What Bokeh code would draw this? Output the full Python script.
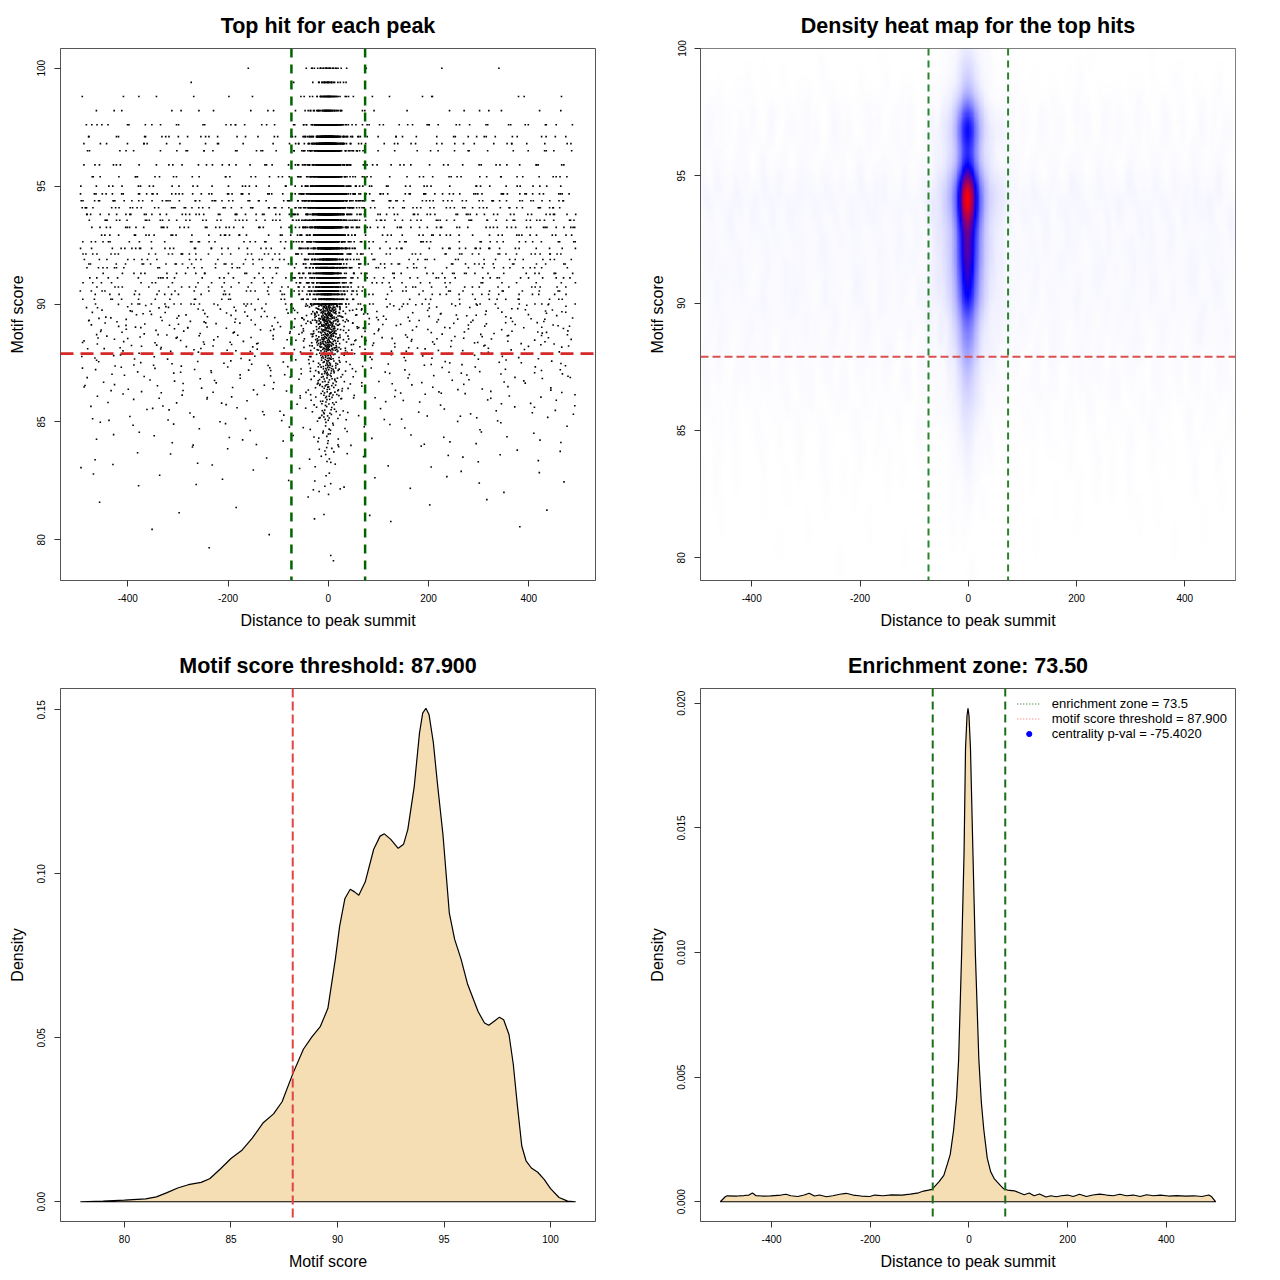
import numpy as np
from bokeh.plotting import figure
from bokeh.layouts import column, row
from bokeh.models import Span, FixedTicker, PrintfTickFormatter, Legend, LegendItem, Range1d
from bokeh.embed import file_html
from bokeh.resources import INLINE

FONT = "Liberation Sans"

# ---------------- values ----------------
enrichment_zone = 73.5
score_threshold = 87.9
centrality_pval = -75.4020

# scatter (top hits): point counts per 1-unit score band, split into the
# uniform background and the summit-centred cluster
score_bin_start = [79, 80, 81, 82, 83, 84, 85, 86, 87, 88, 89, 90, 91, 92, 93, 94, 95, 96, 97, 98, 99]
background_counts = [2, 4, 8, 17, 25, 38, 62, 90, 110, 160, 175, 220, 220, 230, 220, 240, 150, 80, 100, 40, 5]
central_counts = [1, 1, 2, 7, 12, 20, 37, 60, 87, 166, 206, 412, 460, 525, 562, 746, 408, 302, 274, 90, 50]
# discrete motif-score rows visible in the scatter (below 90 the rows merge)
score_levels = [100.0, 99.4, 98.8, 98.2, 97.6, 97.1, 96.8, 96.5, 95.9, 95.4, 95.0,
                94.67, 94.38, 94.08, 93.8, 93.55, 93.25, 92.92, 92.64, 92.36, 92.12,
                91.89, 91.7, 91.54, 91.3, 91.11, 90.9, 90.72, 90.55, 90.41, 90.2, 90.0]
background_x_range = [-495, 495]
background_density_level = 0.00027

# density of motif scores (bottom-left)
score_x = [77.93, 79.0, 80.0, 81.0, 81.5, 82.0, 82.5, 83.0, 83.6, 84.0, 84.5, 85.0, 85.5, 86.0,
           86.5, 87.0, 87.4, 87.9, 88.4, 88.8, 89.2, 89.55, 89.9, 90.1, 90.35, 90.6, 90.8, 91.0,
           91.3, 91.7, 92.0, 92.2, 92.5, 92.85, 93.1, 93.3, 93.6, 93.85, 94.0, 94.15, 94.3, 94.5,
           94.7, 94.95, 95.25, 95.5, 95.8, 96.1, 96.6, 96.9, 97.1, 97.4, 97.6, 97.8, 98.05, 98.25,
           98.45, 98.65, 98.85, 99.1, 99.4, 99.7, 100.0, 100.4, 100.8, 101.18]
score_dens = [0.0, 0.0002, 0.0005, 0.0009, 0.0015, 0.0028, 0.0042, 0.0052, 0.0059, 0.0070, 0.0100,
              0.0132, 0.0156, 0.0194, 0.0240, 0.0268, 0.0305, 0.0390, 0.0465, 0.0503, 0.0535, 0.0590,
              0.0740, 0.0840, 0.0925, 0.0953, 0.0945, 0.0935, 0.0975, 0.1075, 0.1115, 0.1122, 0.1105,
              0.1078, 0.1090, 0.1135, 0.1265, 0.1430, 0.1490, 0.1505, 0.1485, 0.1400, 0.1270, 0.1120,
              0.0880, 0.0800, 0.0740, 0.0665, 0.0580, 0.0545, 0.0538, 0.0553, 0.0563, 0.0555, 0.0510,
              0.0420, 0.0290, 0.0170, 0.0125, 0.0103, 0.0090, 0.0068, 0.0040, 0.0013, 0.0002, 0.0]

# density of distances to summit (bottom-right)
dist_x = [-504, -494, -490, -470, -456, -446, -439, -432, -419, -402, -381, -371, -361, -347, -334,
          -324, -313, -303, -289, -276, -262, -249, -235, -218, -201, -191, -174, -157, -136, -119,
          -102, -92, -82, -75, -68, -61, -51, -44, -38, -31, -25, -21, -15, -10, -7, -4, -2, 0, 3,
          8, 13, 20, 25, 30, 37, 44, 51, 57, 64, 71, 78, 92, 102, 112, 122, 132, 143, 156, 166, 177,
          187, 200, 211, 224, 238, 251, 265, 279, 292, 306, 319, 333, 347, 360, 374, 388, 405, 421,
          439, 456, 472, 486, 492, 500]
dist_dens = [0.0, 0.00020, 0.00024, 0.00023, 0.00025, 0.00027, 0.00035, 0.00025, 0.00023, 0.00024,
             0.00027, 0.00030, 0.00024, 0.00021, 0.00027, 0.00034, 0.00023, 0.00027, 0.00020, 0.00024,
             0.00030, 0.00034, 0.00027, 0.00023, 0.00021, 0.00027, 0.00024, 0.00028, 0.00027, 0.00031,
             0.00036, 0.00043, 0.00047, 0.00050, 0.00065, 0.00080, 0.00106, 0.00150, 0.00190, 0.00290,
             0.00420, 0.00570, 0.00990, 0.01400, 0.01820, 0.01950, 0.01980, 0.01950, 0.01820, 0.01400,
             0.00990, 0.00570, 0.00400, 0.00290, 0.00175, 0.00120, 0.00093, 0.00080, 0.00065, 0.00051,
             0.00047, 0.00044, 0.00036, 0.00028, 0.00035, 0.00024, 0.00031, 0.00019, 0.00024, 0.00020,
             0.00024, 0.00027, 0.00021, 0.00030, 0.00021, 0.00027, 0.00031, 0.00027, 0.00024, 0.00030,
             0.00024, 0.00027, 0.00021, 0.00028, 0.00024, 0.00027, 0.00023, 0.00025, 0.00023, 0.00024,
             0.00021, 0.00027, 0.00020, 0.0]

# ---------------- expand the read counts into points ----------------
# positions inside each (score band, component) cell are laid out with a
# deterministic low-discrepancy (Halton) sequence; only the counts are data.
def radical_inverse(i, base):
    f, r = 1.0, 0.0
    while i > 0:
        f /= base
        r += f * (i % base)
        i //= base
    return r

dx = np.array(dist_x, float)
dd = np.array(dist_dens, float)
cmask = (dx >= -80) & (dx <= 85)
cx = dx[cmask]
cd = np.clip(dd[cmask] - background_density_level, 0, None)
ccdf = np.concatenate([[0.0], np.cumsum(0.5 * (cd[1:] + cd[:-1]) * np.diff(cx))])
ccdf /= ccdf[-1]

pts_x, pts_y = [], []
idx = 1
for lo, nb, nc in zip(score_bin_start, background_counts, central_counts):
    lev = [l for l in score_levels if lo <= l < lo + 1 or (lo == 99 and l == 100.0)]
    for comp, n in (("bg", nb), ("c", nc)):
        for _ in range(n):
            u = (radical_inverse(idx, 2) + 0.025 * radical_inverse(idx, 5)) % 1.0
            v = radical_inverse(idx, 3)
            idx += 1
            if comp == "bg":
                xv = background_x_range[0] + (background_x_range[1] - background_x_range[0]) * u
            else:
                xv = float(np.interp(u, ccdf, cx))
            yv = lev[min(int(v * len(lev)), len(lev) - 1)] if lev else lo + v
            pts_x.append(xv)
            pts_y.append(yv)
px = np.array(pts_x)
py = np.array(pts_y)

# ---------------- helpers ----------------
def style(p, xticks, yticks, xfmt, yfmt, xlabel, ylabel, title, toff):
    p.grid.visible = False
    p.outline_line_color = "#555555"
    p.outline_line_width = 1
    p.background_fill_color = "white"
    p.border_fill_color = "white"
    p.title.text = title
    p.title.align = "center"
    p.title.text_font = FONT
    p.title.text_font_size = "21.5px"
    p.title.text_font_style = "bold"
    p.title.text_color = "black"
    p.title.standoff = 21
    p.title.offset = toff
    for ax, ticks, fmt, lab in ((p.xaxis[0], xticks, xfmt, xlabel), (p.yaxis[0], yticks, yfmt, ylabel)):
        ax.ticker = FixedTicker(ticks=ticks)
        ax.formatter = PrintfTickFormatter(format=fmt)
        ax.minor_tick_line_color = None
        ax.major_tick_in = 0
        ax.major_tick_out = 6
        ax.major_tick_line_color = "#333333"
        ax.axis_line_color = "#555555"
        ax.major_label_text_font = FONT
        ax.major_label_text_font_size = "10px"
        ax.major_label_text_color = "black"
        ax.axis_label = lab
        ax.axis_label_text_font = FONT
        ax.axis_label_text_font_size = "16px"
        ax.axis_label_text_font_style = "normal"
        ax.axis_label_text_color = "black"
    p.xaxis[0].major_label_standoff = 7
    p.xaxis[0].axis_label_standoff = 7
    p.yaxis[0].major_label_standoff = 9
    p.yaxis[0].axis_label_standoff = 9
    p.yaxis[0].major_label_orientation = "vertical"


def ext(lo, hi):
    r = hi - lo
    return Range1d(lo - 0.04 * r, hi + 0.04 * r)

def fig(xr, yr, bottom):
    return figure(width=640, height=640, x_range=xr, y_range=yr,
                  output_backend="svg", toolbar_location=None,
                  min_border_left=60, min_border_right=45, min_border_top=48,
                  min_border_bottom=bottom)

# ---------------- panel 1: scatter ----------------
p1 = fig(ext(px.min(), px.max()), ext(py.min(), py.max()), 60)
p1.scatter(px, py, marker="square", size=1.6, fill_color="black", line_color=None)
for loc in (-enrichment_zone, enrichment_zone):
    p1.add_layout(Span(location=loc, dimension="height", line_color="#006400",
                       line_width=2.5, line_dash="9 7"))
p1.add_layout(Span(location=score_threshold, dimension="width", line_color="#d62828",
                   line_width=2.7, line_dash="13 7"))
style(p1, [-400, -200, 0, 200, 400], [80, 85, 90, 95, 100], "%d", "%d",
      "Distance to peak summit", "Motif score", "Top hit for each peak", -4)

# ---------------- panel 2: 2D density heat map ----------------
def bw_nrd(a):
    q75, q25 = np.percentile(a, [75, 25])
    return 4 * 1.06 * min(np.std(a, ddof=1), (q75 - q25) / 1.34) * len(a) ** (-0.2)

hx = bw_nrd(px) / 4
hy = bw_nrd(py) / 4
gx = np.linspace(px.min(), px.max(), 320)
gy = np.linspace(py.min(), py.max(), 260)
Kx = np.exp(-0.5 * ((gx[None, :] - px[:, None]) / hx) ** 2)
Ky = np.exp(-0.5 * ((gy[None, :] - py[:, None]) / hy) ** 2)
D = (Kx.T @ Ky).T  # (ny, nx)
t = D / D.max()
s1 = np.clip(t / 0.5, 0, 1)
s2 = np.clip((t - 0.5) / 0.5, 0, 1)
rr = np.where(t <= 0.5, 1 - s1, s2)
gg = np.where(t <= 0.5, 1 - s1, 0.0)
bb = np.where(t <= 0.5, 1.0, 1 - s2)
img = np.empty(t.shape, dtype=np.uint32)
view = img.view(dtype=np.uint8).reshape(t.shape + (4,))
view[..., 0] = np.round(rr * 255)
view[..., 1] = np.round(gg * 255)
view[..., 2] = np.round(bb * 255)
view[..., 3] = 255

p2 = fig(Range1d(gx[0], gx[-1]), Range1d(gy[0], gy[-1]), 60)
p2.image_rgba(image=[img], x=gx[0], y=gy[0], dw=gx[-1] - gx[0], dh=gy[-1] - gy[0])
for loc in (-enrichment_zone, enrichment_zone):
    p2.add_layout(Span(location=loc, dimension="height", line_color="#2a852a",
                       line_width=2, line_dash="7 5"))
p2.add_layout(Span(location=score_threshold, dimension="width", line_color="#dc5050",
                   line_width=2, line_dash="8 4"))
style(p2, [-400, -200, 0, 200, 400], [80, 85, 90, 95, 100], "%d", "%d",
      "Distance to peak summit", "Motif score", "Density heat map for the top hits", -2)

# ---------------- panel 3: score density ----------------
p3 = fig(ext(min(score_x), max(score_x)), ext(0, max(score_dens)), 59)
p3.patch(score_x, score_dens, fill_color="wheat", line_color="black", line_width=1.2)
p3.add_layout(Span(location=score_threshold, dimension="height", line_color="#e04444",
                   line_width=2, line_dash="9 4"))
style(p3, [80, 85, 90, 95, 100], [0.0, 0.05, 0.10, 0.15], "%d", "%.2f",
      "Motif score", "Density", f"Motif score threshold: {score_threshold:.3f}", -2)

# ---------------- panel 4: distance density ----------------
p4 = fig(ext(min(dist_x), max(dist_x)), ext(0, max(dist_dens)), 59)
p4.patch(dist_x, dist_dens, fill_color="wheat", line_color="black", line_width=1.2)
for loc in (-enrichment_zone, enrichment_zone):
    p4.add_layout(Span(location=loc, dimension="height", line_color="#1b6e1b",
                       line_width=2, line_dash="8 5"))
style(p4, [-400, -200, 0, 200, 400], [0.0, 0.005, 0.010, 0.015, 0.020], "%d", "%.3f",
      "Distance to peak summit", "Density", f"Enrichment zone: {enrichment_zone:.2f}", -2)

# legend-only renderers: their data lie below the visible y range
off_y = [-1.0, -1.0]
lg_g = p4.line(x=[-enrichment_zone, enrichment_zone], y=off_y, line_color="#1b6e1b",
               line_width=1.2, line_dash="1 2")
lg_r = p4.line(x=[-enrichment_zone, enrichment_zone], y=off_y, line_color="#ff6666",
               line_width=1.2, line_dash="1 2")
lg_b = p4.scatter(x=[centrality_pval], y=[-1.0], marker="circle", size=5.5,
                  fill_color="blue", line_color="blue")
legend = Legend(items=[
    LegendItem(label=f"enrichment zone = {enrichment_zone}", renderers=[lg_g]),
    LegendItem(label=f"motif score threshold = {score_threshold:.3f}", renderers=[lg_r]),
    LegendItem(label=f"centrality p-val = {centrality_pval:.4f}", renderers=[lg_b]),
], location="top_right", border_line_color=None, background_fill_alpha=0,
    label_text_font=FONT, label_text_font_size="13px", label_text_color="black",
    glyph_width=24, glyph_height=13, label_height=13, spacing=0, padding=9, margin=8,
    label_standoff=11)
p4.add_layout(legend)

layout = column(row(p1, p2), row(p3, p4))
open("out.html", "w").write(file_html(layout, INLINE))
